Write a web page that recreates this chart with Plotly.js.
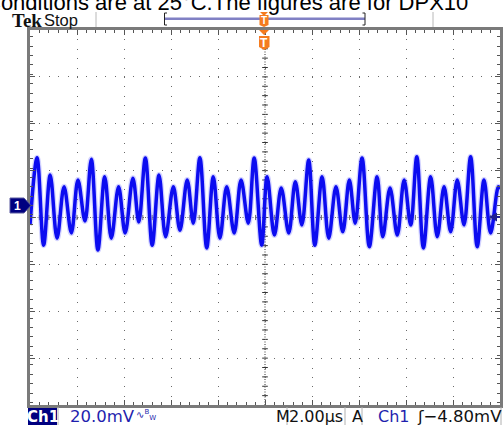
<!DOCTYPE html>
<html><head><meta charset="utf-8">
<script src="https://cdn.plot.ly/plotly-3.0.1.min.js"></script>
<style>html,body{margin:0;padding:0;background:#fff;overflow:hidden}#chart{width:504px;height:425px}</style>
</head><body><div id="chart"></div>
<script>
// ---- data (peaks / troughs of the CH1 trace) ----
const timeUs = [-10.00,-9.70,-9.42,-9.14,-8.85,-8.55,-8.24,-7.96,-7.66,-7.39,
  -7.11,-6.82,-6.54,-6.23,-5.95,-5.62,-5.37,-5.09,-4.80,-4.51,
  -4.23,-3.90,-3.62,-3.31,-3.05,-2.77,-2.48,-2.20,-1.92,-1.63,
  -1.31,-1.02,-0.71,-0.46,-0.14,0.09,0.40,0.69,1.01,1.29,
  1.57,1.86,2.12,2.43,2.71,3.02,3.31,3.59,3.84,4.13,
  4.44,4.77,5.01,5.32,5.63,5.92,6.20,6.46,6.74,7.05,
  7.33,7.62,7.90,8.18,8.47,8.75,9.03,9.32,9.60,9.93,10.00];
const ch1mV = [-8.3,20.4,-16.9,13.0,-13.9,8.0,-11.7,10.9,-6.6,19.8,
  -19.0,12.3,-13.9,8.0,-11.7,11.7,-7.0,20.3,-16.9,13.0,
  -13.3,8.0,-10.5,10.9,-7.5,20.4,-18.1,12.3,-13.9,8.0,
  -11.7,10.9,-7.5,20.3,-16.9,12.3,-12.6,7.5,-11.7,10.2,
  -8.3,19.4,-16.9,12.3,-13.9,8.0,-11.2,10.9,-7.5,20.3,
  -17.6,12.3,-13.3,7.5,-12.6,10.9,-8.3,20.8,-18.1,12.3,
  -13.3,8.0,-11.2,10.9,-8.3,20.8,-17.6,10.9,-11.7,8.0,7.0];
const voltsPerDivMV = 20;
const timePerDivUs = 2;
const screenCenterMV = -5.1;   // screen centre relative to CH1 ground marker
const triggerLevelMV = -4.80;
const labels = {
  header: "Conditions are at 25°C.The figures are for DPX10",
  scale: "20.0mV", timebase: "2.00µs", trig: "ʃ−4.80mV"
};

// ---- layout helpers (pixel -> paper) ----
const L=30,R=500,T=30,B=405;
const px = x => (x-L)/(R-L);
const py = y => (B-y)/(B-T);
const NAVY='#000080', BLUE='#1f1fae', ORANGE='#f57c1f', GRAT='#6a6a6a';

const yMin = screenCenterMV - 4*voltsPerDivMV, yMax = screenCenterMV + 4*voltsPerDivMV;
const xMin = -5*timePerDivUs, xMax = 5*timePerDivUs;

const shapes = [];
shapes.push({type:'line',xref:'x',yref:'y',x0:xMin,x1:xMax,y0:screenCenterMV,y1:screenCenterMV,
  line:{color:GRAT,width:1,dash:'1px,1.5px'},layer:'below'});
shapes.push({type:'line',xref:'x',yref:'y',x0:0,x1:0,y0:yMin,y1:yMax,
  line:{color:'#333',width:1,dash:'1px,1.5px'},layer:'below'});
const hx = timePerDivUs/5, hy = voltsPerDivMV/5;
for (let k=-24;k<=24;k++){
  const x=k*hx;
  shapes.push({type:'line',xref:'x',yref:'y',x0:x,x1:x,y0:screenCenterMV-1.1,y1:screenCenterMV+1.1,
    line:{color:GRAT,width:1},layer:'below'});
}
for (let k=-19;k<=19;k++){
  const y=screenCenterMV+k*hy;
  shapes.push({type:'line',xref:'x',yref:'y',x0:-0.12,x1:0.12,y0:y,y1:y,
    line:{color:'#333',width:1},layer:'below'});
}
function P(pts){return 'M'+pts.map(p=>px(p[0])+','+py(p[1])).join('L')+'Z';}
function Pline(pts){return 'M'+pts.map(p=>px(p[0])+','+py(p[1])).join('L');}
[[96,12,27],[433,12,27]].forEach(s=>shapes.push({type:'line',xref:'paper',yref:'paper',
  x0:px(s[0]),x1:px(s[0]),y0:py(s[1]),y1:py(s[2]),line:{color:'#b8b8b8',width:1}}));
shapes.push({type:'line',xref:'paper',yref:'paper',x0:px(165),x1:px(365),y0:py(18.7),y1:py(18.7),
  line:{color:'#8080c4',width:2.5}});
shapes.push({type:'path',xref:'paper',yref:'paper',path:Pline([[167,13],[164.5,13],[164.5,25],[167,25]]),
  line:{color:'#222',width:1}});
shapes.push({type:'path',xref:'paper',yref:'paper',path:Pline([[362.5,13],[365,13],[365,25],[362.5,25]]),
  line:{color:'#222',width:1}});
shapes.push({type:'path',xref:'paper',yref:'paper',path:P([[260,12],[268,12],[264,16]]),
  fillcolor:ORANGE,line:{width:0}});
shapes.push({type:'path',xref:'paper',yref:'paper',path:P([[259.5,15],[268.5,15],[268.5,25],[264,27],[259.5,25]]),
  fillcolor:ORANGE,line:{width:0}});
shapes.push({type:'path',xref:'paper',yref:'paper',path:P([[259,30],[269,30],[264,35]]),
  fillcolor:ORANGE,line:{width:0},layer:'above'});
shapes.push({type:'path',xref:'paper',yref:'paper',path:P([[259,36],[269.5,36],[269.5,47],[264.25,50],[259,47]]),
  fillcolor:ORANGE,line:{width:0},layer:'above'});
shapes.push({type:'path',xref:'paper',yref:'paper',path:P([[10,198],[24,198],[31,205.5],[24,213],[10,213]]),
  fillcolor:NAVY,line:{color:'#5a5aa0',width:1}});
shapes.push({type:'path',xref:'paper',yref:'paper',path:P([[489,217],[497,212.5],[497,221.5]]),
  fillcolor:'#202090',line:{width:0},layer:'above'});
shapes.push({type:'line',xref:'paper',yref:'paper',x0:px(496),x1:px(500),y0:py(217),y1:py(217),
  line:{color:'#202090',width:2},layer:'above'});
shapes.push({type:'rect',xref:'paper',yref:'paper',x0:px(28),x1:px(57),y0:py(408),y1:py(425),
  fillcolor:NAVY,line:{width:0}});
[58,287,345,362,501].forEach(x=>shapes.push({type:'line',xref:'paper',yref:'paper',
  x0:px(x),x1:px(x),y0:py(407),y1:py(425),line:{color:'#b0b0b0',width:1}}));

const F='DejaVu Sans';
function ann(text,x,y,size,color,family,anchor,extra){
  return Object.assign({text:text,xref:'paper',yref:'paper',x:px(x),y:py(y),showarrow:false,
    xanchor:anchor||'left',yanchor:'middle',font:{size:size,color:color,family:family||F},borderpad:0},extra||{});
}
const annotations = [
  ann(labels.header,-16,2.5,22,'#000','Liberation Sans, Arial'),
  ann('<b>Tek</b>',11,20,19,'#111','Liberation Serif'),
  ann('Stop',42.5,20,16.5,'#111','Liberation Sans'),
  ann('<b>T</b>',264,20.5,10,'#fff','Liberation Sans','center'),
  ann('<b>T</b>',264.2,42.5,12,'#fff','Liberation Sans','center'),
  ann('<b>1</b>',17.5,205.5,12,'#fff','Liberation Sans','center'),
  ann('<b>Ch1</b>',42.5,416.5,15,'#fff',F,'center'),
  ann(labels.scale,69,416.5,16.5,BLUE,F),
  ann('∿<sup>B</sup><sub>W</sub>',135,415,10,BLUE,F),
  ann('M',275,416.5,16,'#111',F),
  ann(labels.timebase,316,416.5,16,'#111',F,'center'),
  ann('A',351,416.5,16,'#111',F),
  ann('Ch1',377,416.5,16,BLUE,F),
  ann(labels.trig,416,416.5,16.5,'#111',F)
];

const axisCommon = {showticklabels:false, zeroline:false, showgrid:true, gridcolor:GRAT, gridwidth:1,
  ticks:'inside', ticklen:5, tickcolor:'#555', tickwidth:1, mirror:'allticks', showline:true,
  linecolor:'#7a7a7a', linewidth:3, fixedrange:true};

const traces = [
  {x:timeUs,y:ch1mV,type:'scatter',mode:'lines',line:{shape:'spline',smoothing:1,width:6,color:'rgba(110,110,255,0.3)'},hoverinfo:'skip'},
  {x:timeUs,y:ch1mV,type:'scatter',mode:'lines',line:{shape:'spline',smoothing:1,width:3.5,color:'#0c0cf0'},hoverinfo:'skip'}
];
const layout = {
  width:504,height:425,margin:{l:30,r:4,t:30,b:20},paper_bgcolor:'#fff',plot_bgcolor:'#fff',showlegend:false,
  xaxis:Object.assign({},axisCommon,{range:[xMin,xMax],tick0:0,dtick:timePerDivUs,griddash:'1px,8.375px',
    minor:{ticks:'inside',dtick:timePerDivUs/5,ticklen:3,tickcolor:'#555',showgrid:false}}),
  yaxis:Object.assign({},axisCommon,{range:[yMin,yMax],tick0:screenCenterMV,dtick:voltsPerDivMV,griddash:'1px,8.4px',
    minor:{ticks:'inside',dtick:voltsPerDivMV/5,ticklen:3,tickcolor:'#555',showgrid:false}}),
  shapes:shapes, annotations:annotations
};
Plotly.newPlot('chart',traces,layout,{staticPlot:true,displayModeBar:false});
</script></body></html>
